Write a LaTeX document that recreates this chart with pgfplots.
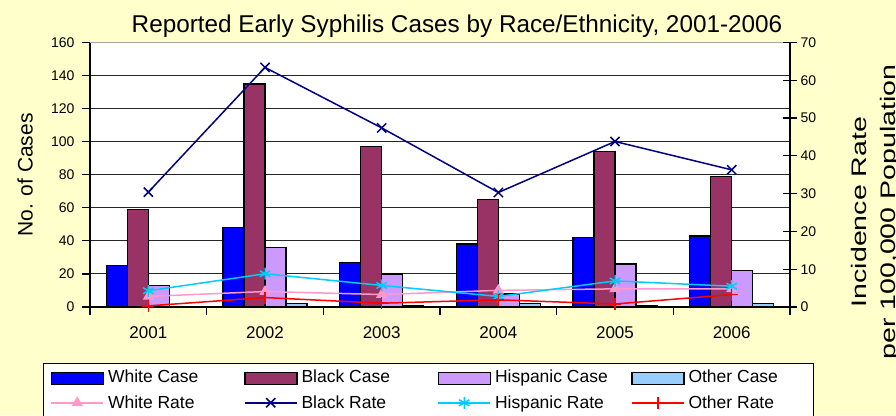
\documentclass[border=0pt]{standalone}
\usepackage{pgfplots}
\pgfplotsset{compat=1.18}
\usepackage{pgfplotstable}
\usepackage{graphicx}
\usepackage{fontspec}
\setmainfont{Liberation Sans}
\definecolor{bg}{HTML}{FFFFCC}
\definecolor{wcase}{HTML}{0000FF}
\definecolor{bcase}{HTML}{993366}
\definecolor{hcase}{HTML}{CC99FF}
\definecolor{ocase}{HTML}{99CCFF}
\definecolor{wrate}{HTML}{FF99CC}
\definecolor{brate}{HTML}{000080}
\definecolor{hrate}{HTML}{00CCFF}
\definecolor{orate}{HTML}{FF0000}

\pgfplotstableread{
x W B H O
0 25 59 13 0
1 48 135 36 2
2 27 97 20 1
3 38 65 8 2
4 42 94 26 1
5 43 79 22 2
}\cases

\pgfplotstableread{
x W B H O
0 2.8 30.4 4.3 0.3
1 4.1 63.4 8.8 2.5
2 3.3 47.4 5.7 1.0
3 4.4 30.3 2.8 1.9
4 4.8 43.8 6.9 0.8
5 4.8 36.3 5.5 3.3
}\rates

\pgfplotsset{
  barleg/.style={legend image code/.code={\draw[##1] (0pt,-2.3pt) rectangle (52pt,9.7pt);}},
  lineleg/.style={legend image code/.code={\draw[mark repeat=2,mark phase=2,##1] plot coordinates {(0pt,6pt)(26pt,6pt)(52pt,6pt)};}},
}

\begin{document}
\begin{tikzpicture}
\useasboundingbox (0pt,0pt) rectangle (896pt,415pt);
\clip (0pt,0pt) rectangle (896pt,415pt);
\fill[bg] (0pt,0pt) rectangle (896pt,415pt);

\begin{axis}[
  at={(90pt,108pt)}, anchor=south west,
  width=700pt, height=264.5pt, scale only axis,
  xmin=-0.5, xmax=5.5, ymin=0, ymax=160,
  ytick={0,20,...,160},
  xtick={-0.5,0.5,...,5.5},
  x tick label as interval,
  xticklabels={2001,2002,2003,2004,2005,2006},
  axis x line*=bottom, axis y line*=left,
  axis line style={black, line width=1.2pt},
  tick align=outside, major tick length=8pt,
  tick style={black, line width=1.2pt},
  ymajorgrids, grid style={black!85, line width=0.9pt},
  axis background/.style={fill=white},
  ybar=0pt, bar width=21pt,
  yticklabel style={font=\fontsize{14}{16}\selectfont, xshift=-4pt},
  xticklabel style={font=\fontsize{17}{19}\selectfont, yshift=-8pt},
  /pgf/number format/assume math mode=true,
  after end axis/.code={\draw[gray!70, line width=1.5pt] (rel axis cs:0,1) -- (rel axis cs:1,1);},
]
\addplot[fill=wcase, draw=black, line width=1.5pt] table[x=x,y=W]{\cases};
\addplot[fill=bcase, draw=black, line width=1.5pt] table[x=x,y=B]{\cases};
\addplot[fill=hcase, draw=black, line width=1.5pt] table[x=x,y=H]{\cases};
\addplot[fill=ocase, draw=black, line width=1.5pt] table[x=x,y=O]{\cases};
\end{axis}

\begin{axis}[
  at={(90pt,108pt)}, anchor=south west,
  width=700pt, height=264.5pt, scale only axis,
  xmin=-0.5, xmax=5.5, ymin=0, ymax=70,
  ytick={0,10,...,70},
  axis x line=none, axis y line*=right,
  axis line style={black, line width=1.2pt},
  tick align=center, major tick length=14pt,
  tick style={black, line width=1.2pt},
  tick label style={font=\fontsize{14}{16}\selectfont},
  /pgf/number format/assume math mode=true,
  legend columns=4,
  legend style={at={(-0.06714,-0.2117)}, anchor=north west,
    draw=black, line width=1pt, fill=white,
    inner xsep=7pt, inner ysep=4pt,
    font=\fontsize{17.5}{20}\selectfont,
    row sep=6.9pt,
    /tikz/every odd column/.append style={column sep=4pt},
    cells={anchor=base west},
    nodes={inner sep=0pt, text height=14.7pt, text depth=5pt}},
]
\addlegendimage{barleg, fill=wcase, draw=black, line width=1.5pt}
\addlegendentry{\makebox[136pt][l]{White Case}}
\addlegendimage{barleg, fill=bcase, draw=black, line width=1.5pt}
\addlegendentry{\makebox[136pt][l]{Black Case}}
\addlegendimage{barleg, fill=hcase, draw=black, line width=1.5pt}
\addlegendentry{\makebox[136pt][l]{Hispanic Case}}
\addlegendimage{barleg, fill=ocase, draw=black, line width=1.5pt}
\addlegendentry{\makebox[118pt][l]{Other Case}}
\addplot[lineleg, color=wrate, line width=1.5pt, mark=triangle*, mark size=5pt, mark options={solid, fill=wrate}] table[x=x,y=W]{\rates};
\addlegendentry{\makebox[136pt][l]{White Rate}}
\addplot[lineleg, color=brate, line width=1.5pt, mark=x, mark size=6.5pt, mark options={solid}] table[x=x,y=B]{\rates};
\addlegendentry{\makebox[136pt][l]{Black Rate}}
\addplot[lineleg, color=hrate, line width=1.5pt, mark=asterisk, mark size=6pt, mark options={solid}] table[x=x,y=H]{\rates};
\addlegendentry{\makebox[136pt][l]{Hispanic Rate}}
\addplot[lineleg, color=orate, line width=1.5pt, mark=+, mark size=6pt, mark options={solid}] table[x=x,y=O]{\rates};
\addlegendentry{\makebox[118pt][l]{Other Rate}}
\end{axis}

\node[anchor=base, font=\fontsize{24.3}{28}\selectfont] at (457pt,382pt) {Reported Early Syphilis Cases by Race/Ethnicity, 2001-2006};
\node[rotate=90, anchor=base, font=\fontsize{21}{24}\selectfont] at (32.7pt,240pt) {No. of Cases};
\node[rotate=90, anchor=base, font=\fontsize{21}{24}\selectfont] at (866.7pt,203pt) {\scalebox{1.36}[1]{Incidence Rate}};
\node[rotate=90, anchor=base, font=\fontsize{21}{24}\selectfont] at (895.5pt,203pt) {\scalebox{1.36}[1]{per 100,000 Population}};
\end{tikzpicture}
\end{document}
